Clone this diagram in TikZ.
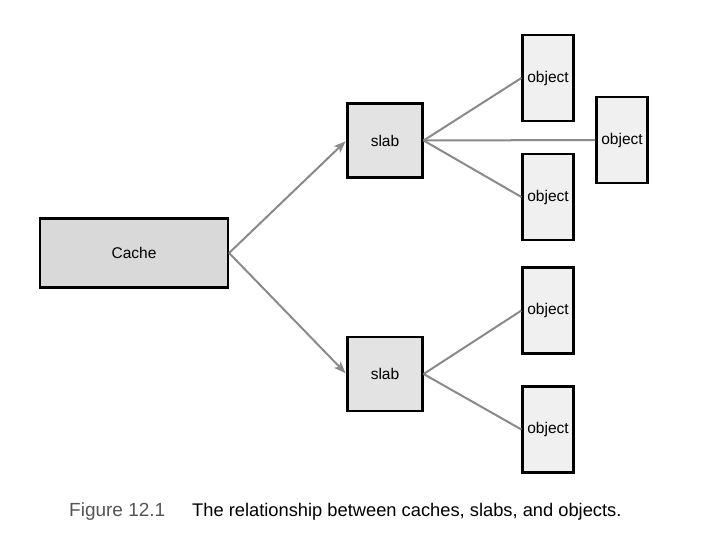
\documentclass[tikz,border=0pt]{standalone}
\usepackage{fontspec}
\setmainfont{Liberation Sans}
\usetikzlibrary{arrows.meta}
\definecolor{cachefill}{HTML}{D9D9D9}
\definecolor{slabfill}{HTML}{E3E3E3}
\definecolor{objfill}{HTML}{F0F0F0}
\definecolor{linkgray}{HTML}{8A8A8A}
\definecolor{capgray}{HTML}{555555}
\begin{document}
\begin{tikzpicture}[x=1pt,y=-1pt,
  box/.style={draw=black,line width=2.2pt,inner sep=0pt,font=\fontsize{15.5}{17}\selectfont},
  cachebox/.style={box,fill=cachefill,minimum width=188pt,minimum height=69pt},
  slabbox/.style={box,fill=slabfill,minimum width=75pt,minimum height=74pt},
  objbox/.style={box,fill=objfill,minimum width=51pt,minimum height=86pt},
  link/.style={draw=linkgray,line width=2pt},
  feed/.style={link,-{Stealth[length=12pt,width=9pt,inset=3pt]},shorten >=1pt}]
\useasboundingbox (0,0) rectangle (701,536);
% boxes
\node[cachebox] (cache) at (134,253) {Cache};
\node[slabbox] (slabA) at (385,140.5) {slab};
\node[slabbox] (slabB) at (385,374) {slab};
\node[objbox] (o1) at (548,78) {object};
\node[objbox] (o2) at (622,140) {object};
\node[objbox] (o3) at (548,197) {object};
\node[objbox] (o4) at (548,310.5) {object};
\node[objbox] (o5) at (548,429.5) {object};
% connectors
\draw[feed] (cache.east) -- (slabA.west);
\draw[feed] (cache.east) -- (slabB.west);
\draw[link] (slabA.east) -- (o1.west);
\draw[link] (slabA.east) -- (o2.west);
\draw[link] (slabA.east) -- (o3.west);
\draw[link] (slabB.east) -- (o4.west);
\draw[link] (slabB.east) -- (o5.west);
% caption
\node[anchor=base west,inner sep=0pt,text=capgray,font=\fontsize{19}{21}\selectfont] (capnum) at (69,516) {Figure 12.1};
\node[anchor=base west,inner sep=0pt,font=\fontsize{18.3}{20}\selectfont] (captext) at (192,516) {The relationship between caches, slabs, and objects.};
\end{tikzpicture}
\end{document}
